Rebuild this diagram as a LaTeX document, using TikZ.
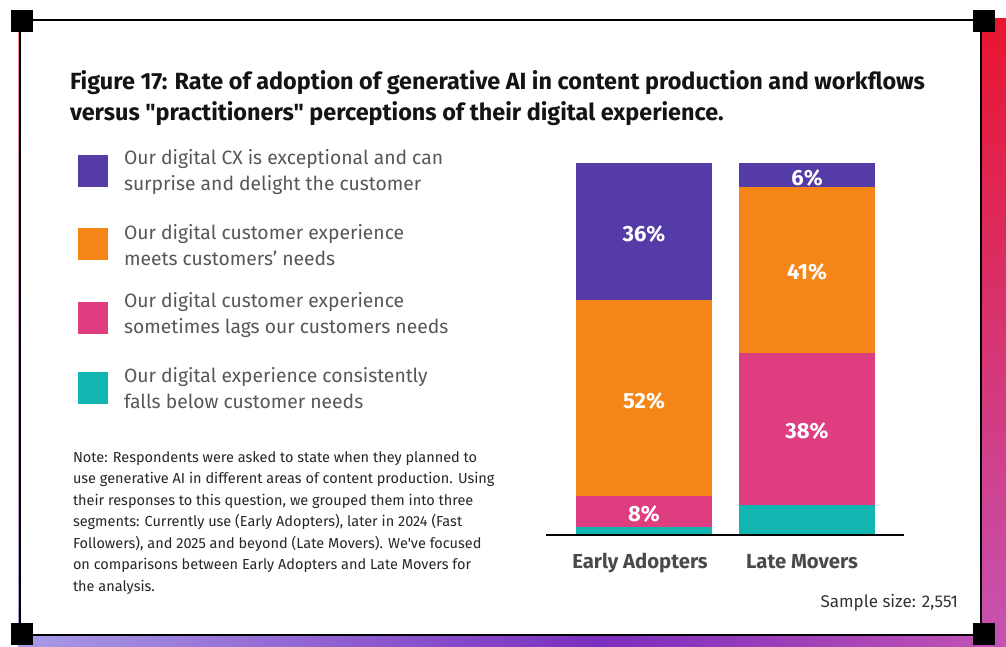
\documentclass[tikz,border=0pt]{standalone}
\usepackage{fontspec}
\setmainfont{Fira Sans}[Ligatures=TeXOff]
\usetikzlibrary{positioning}
\definecolor{cxpurple}{HTML}{553BA8}
\definecolor{cxorange}{HTML}{F58516}
\definecolor{cxpink}{HTML}{DE3D7F}
\definecolor{cxteal}{HTML}{12B5AF}
\definecolor{greytext}{HTML}{575757}
\definecolor{axisgrey}{HTML}{4A4A4A}
\definecolor{framered}{HTML}{E8152F}
\definecolor{framemagenta}{HTML}{C553B3}
\definecolor{framepurple}{HTML}{7B2EBF}
\definecolor{framelilac}{HTML}{A89BE6}

\begin{document}
\begin{tikzpicture}[x=1pt, y=-1pt]
\tikzstyle{every node}=[inner sep=0pt, outer sep=0pt];
\tikzstyle{legtext}=[anchor=base west, align=left, text=greytext, font=\fontsize{19.3}{26}\selectfont];
\tikzstyle{legbox}=[anchor=north west, minimum width=30pt, minimum height=32pt];
\tikzstyle{barlabel}=[text=white, font=\fontsize{22}{22}\bfseries];
\tikzstyle{catlabel}=[anchor=base, text=axisgrey, font=\fontsize{20.3}{20}\bfseries];
\tikzstyle{corner}=[fill=black, minimum size=22pt];
\useasboundingbox (0,0) rectangle (1006,647);

% gradient frame behind the card
\shade[top color=framered, bottom color=framemagenta] (982,19) rectangle (1006,647);
\shade[left color=framelilac, right color=framepurple] (18,636) rectangle (600,647);
\shade[left color=framepurple, right color=framemagenta] (599,636) rectangle (1006,647);
\shade[top color=framered!50, bottom color=framelilac] (18,20) rectangle (21,636);

% card
\draw[fill=white, line width=2.5pt] (20,20) rectangle (981,635);
\node[corner] (c1) at (22,21) {};
\node[corner] (c2) at (984,21) {};
\node[corner] (c3) at (22,634) {};
\node[corner] (c4) at (984,634) {};

% title (base = last line)
\node[anchor=base west, align=left, text=black!92, font=\fontsize{23.4}{31}\bfseries] (title) at (70,121)
  {Figure 17: Rate of adoption of generative AI in content production and workflows\\
   versus "practitioners" perceptions of their digital experience.};

% legend
\node[legbox, fill=cxpurple] (k1) at (78,155) {};
\node[legbox, fill=cxorange] (k2) at (78,228) {};
\node[legbox, fill=cxpink] (k3) at (78,302) {};
\node[legbox, fill=cxteal] (k4) at (78,372) {};
\node[legtext] (t1) at (124,191) {Our digital CX is exceptional and can\\surprise and delight the customer};
\node[legtext] (t2) at (124,265) {Our digital customer experience\\meets customers’ needs};
\node[legtext] (t3) at (124,333) {Our digital customer experience\\sometimes lags our customers needs};
\node[legtext] (t4) at (124,408) {Our digital experience consistently\\falls below customer needs};

% note
\node[anchor=base west, align=left, text=black!85, font=\fontsize{14.5}{21.5}\selectfont] (note) at (73,591)
  {Note: Respondents were asked to state when they planned to\\
   use generative AI in different areas of content production. Using\\
   their responses to this question, we grouped them into three\\
   segments: Currently use (Early Adopters), later in 2024 (Fast\\
   Followers), and 2025 and beyond (Late Movers). We've focused\\
   on comparisons between Early Adopters and Late Movers for\\
   the analysis.};

% bars
\fill[cxpurple] (576,163) rectangle (712,300);
\fill[cxorange] (576,300) rectangle (712,496);
\fill[cxpink] (576,496) rectangle (712,527);
\fill[cxteal] (576,527) rectangle (712,535);
\fill[cxpurple] (739,163) rectangle (875,187);
\fill[cxorange] (739,187) rectangle (875,353);
\fill[cxpink] (739,353) rectangle (875,505);
\fill[cxteal] (739,505) rectangle (875,535);
\node[barlabel] (e1) at (644,234) {36\%};
\node[barlabel] (e2) at (644,401) {52\%};
\node[barlabel] (e3) at (644,514) {8\%};
\node[barlabel] (l1) at (807,178) {6\%};
\node[barlabel] (l2) at (807,272) {41\%};
\node[barlabel] (l3) at (807,431) {38\%};

% axis
\coordinate (ax0) at (546,535);
\coordinate (ax1) at (904,535);
\draw[line width=2.2pt] (ax0) -- (ax1);
\node[catlabel] (early) at (640,568) {Early Adopters};
\node[catlabel] (late) at (802,568) {Late Movers};

\node[anchor=base east, text=black!80, font=\fontsize{17}{18}\selectfont] (sample) at (958,607) {Sample size: 2,551};
\end{tikzpicture}
\end{document}
